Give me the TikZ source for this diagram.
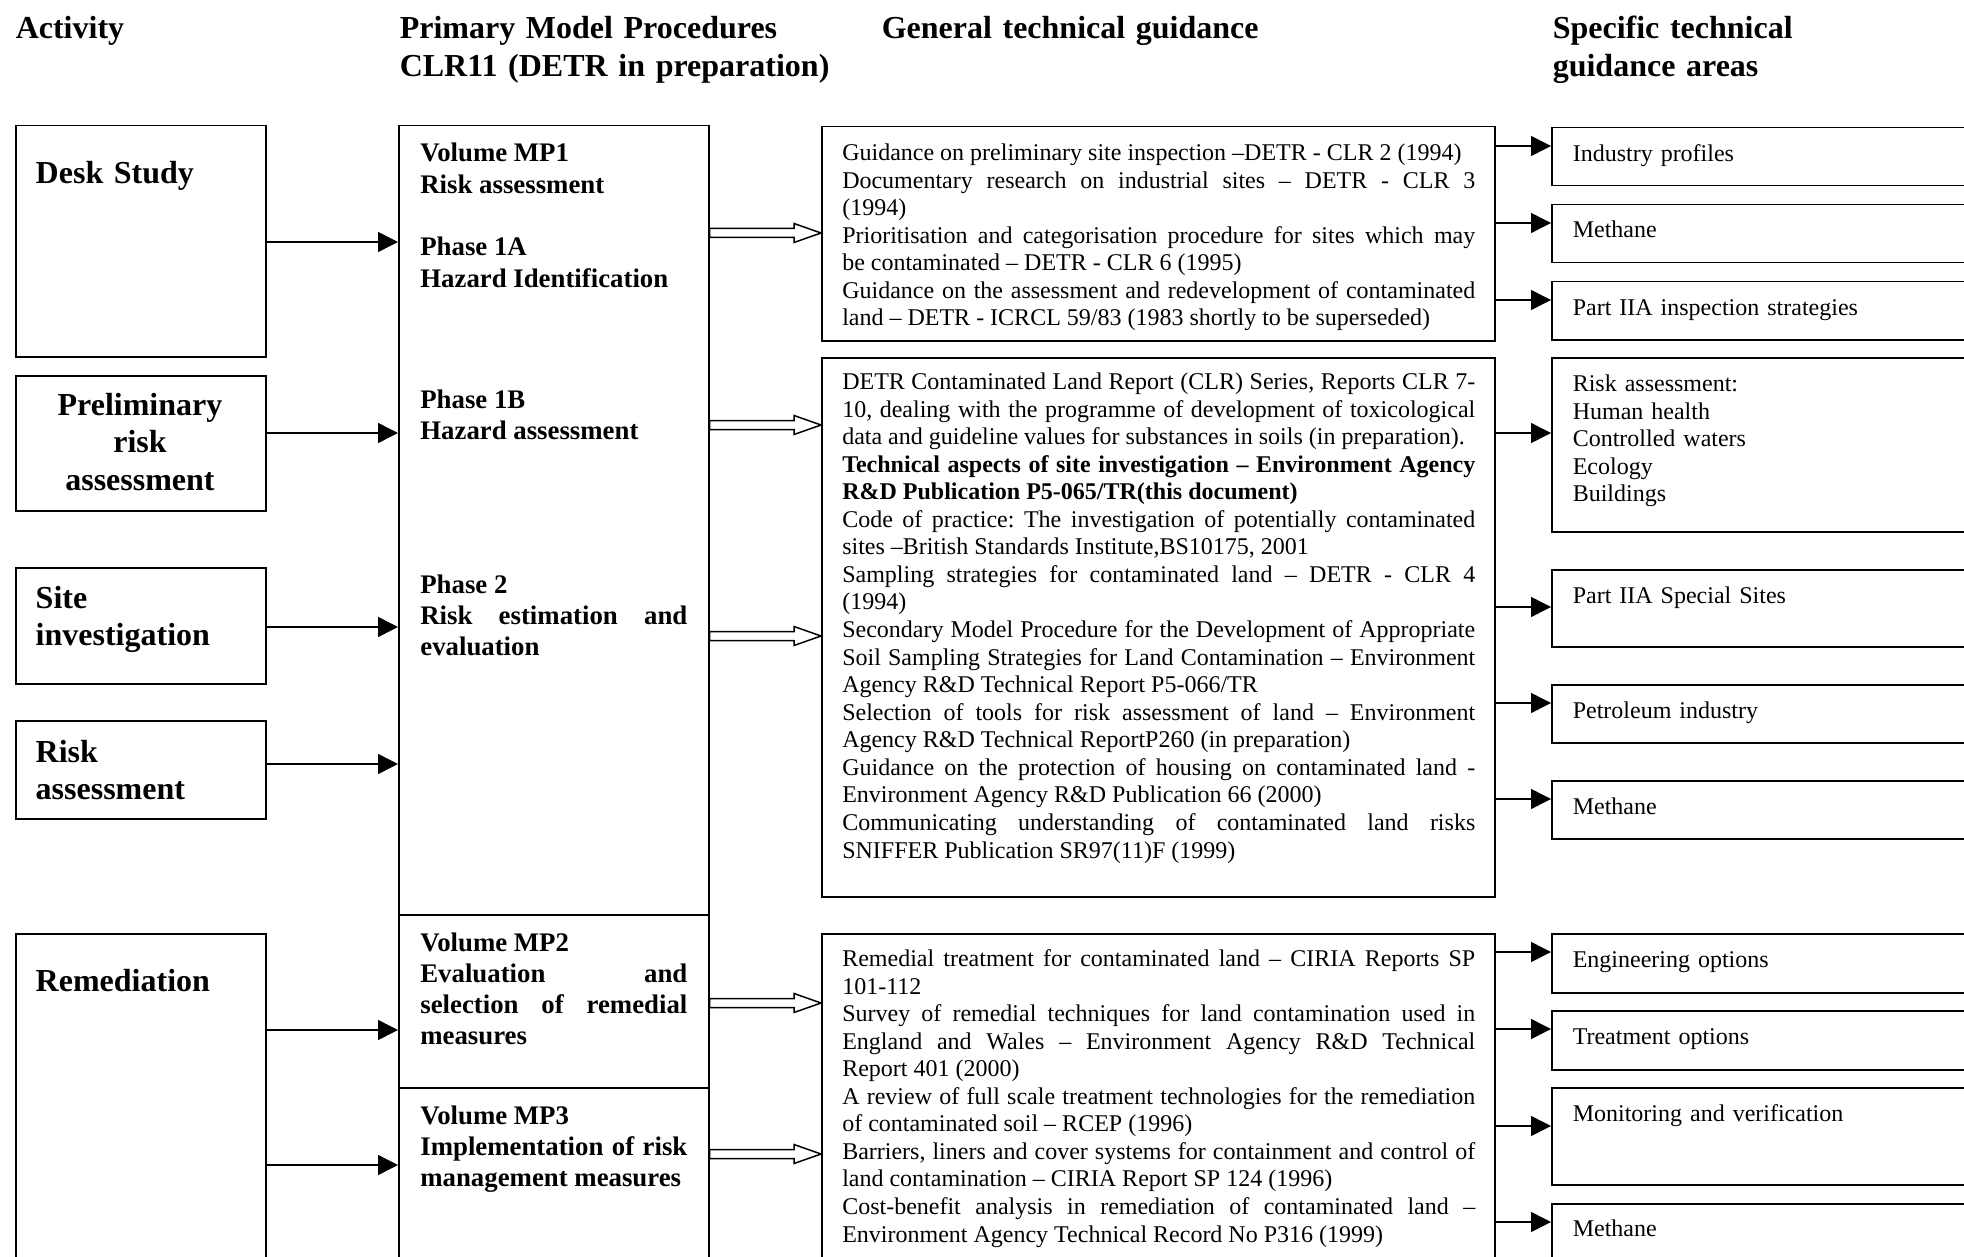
\documentclass[tikz,border=0pt]{standalone}
\usepackage{fontspec}
\setmainfont{Liberation Serif}
\usetikzlibrary{arrows.meta,calc}
\tolerance=10000
\hbadness=10000
\hyphenpenalty=10000
\exhyphenpenalty=10000
\frenchspacing

\begin{document}
\begin{tikzpicture}[x=0.5pt,y=0.5pt,line width=0.75pt]
    \tikzstyle{every node}+=[inner sep=0pt]
    \tikzstyle{box}=[draw=black,anchor=north west]
    \tikzstyle{hd}=[anchor=base west,text width=240pt,align=left,font=\fontsize{16}{18.8}\selectfont\bfseries]
    \tikzstyle{act}=[anchor=base west,text width=110pt,align=left,font=\fontsize{16}{18.8}\selectfont\bfseries]
    \tikzstyle{proc}=[anchor=base west,text width=133.5pt,align=justify,font=\fontsize{13.4}{15.6}\selectfont\bfseries]
    \tikzstyle{guide}=[anchor=base west,text width=316.5pt,align=justify,font=\fontsize{12}{13.78}\selectfont]
    \tikzstyle{area}=[anchor=base west,text width=200pt,align=left,font=\fontsize{12}{13.78}\selectfont]
    \tikzstyle{arr}=[-{Triangle[length=10pt,width=10pt]}]
    \tikzstyle{dbl}=[to path={let \p1=(\tikztostart), \p2=(\tikztotarget) in
        (\x1,\y1+2.25pt) -- (\x2-13.5pt,\y1+2.25pt) -- (\x2-13.5pt,\y1+4.75pt) -- (\x2,\y1)
        -- (\x2-13.5pt,\y1-4.75pt) -- (\x2-13.5pt,\y1-2.25pt) -- (\x1,\y1-2.25pt) -- cycle}]
    \useasboundingbox (0,0) rectangle (1964,-1257);
    \clip (0,0) rectangle (1964,-1257);

    \node[hd] (hact) at (15,-39) {Activity};
    \node[hd] (hproc) at (399,-39) {Primary Model Procedures\\CLR11 (DETR in preparation)};
    \node[hd] (hgen) at (881,-39) {General technical guidance};
    \node[hd] (hspec) at (1552,-39) {Specific technical\\guidance areas};

    \node[box,minimum width=125pt,minimum height=115.5pt] (desk) at (15,-125) {};
    \node[box,minimum width=125pt,minimum height=67.5pt] (prelim) at (15,-375) {};
    \node[box,minimum width=125pt,minimum height=58pt] (site) at (15,-567) {};
    \node[box,minimum width=125pt,minimum height=49pt] (risk) at (15,-720) {};
    \node[box,minimum width=125pt,minimum height=200pt] (remed) at (15,-933) {};
    \node[act] (tdesk) at (35,-184) {Desk Study};
    \node[act,anchor=base,align=center] (tprelim) at (140,-415) {Preliminary\\risk\\assessment};
    \node[act] (tsite) at (35,-608) {Site\\investigation};
    \node[act] (trisk) at (35,-762) {Risk\\assessment};
    \node[act] (tremed) at (35,-991) {Remediation};

    \node[box,minimum width=155pt,minimum height=394.5pt] (mp1) at (398,-125) {};
    \node[box,minimum width=155pt,minimum height=86.5pt] (mp2) at (398,-914) {};
    \node[box,minimum width=155pt,minimum height=125pt] (mp3) at (398,-1087) {};
    \node[proc] (tmp1) at (419.6,-162) {Volume MP1\\Risk assessment};
    \node[proc] (t1a) at (419.6,-256) {Phase 1A\\Hazard Identification};
    \node[proc] (t1b) at (419.6,-408.5) {Phase 1B\\Hazard assessment};
    \node[proc] (t2) at (419.6,-593) {Phase 2\\Risk estimation and\linebreak evaluation};
    \node[proc] (tmp2) at (419.6,-951) {Volume MP2\\Evaluation and\linebreak selection of remedial\linebreak measures};
    \node[proc] (tmp3) at (419.6,-1124) {Volume MP3\\Implementation of risk\linebreak management measures};

    \node[box,minimum width=336.5pt,minimum height=107pt] (g1) at (821,-126) {};
    \node[box,minimum width=336.5pt,minimum height=269.5pt] (g2) at (821,-357) {};
    \node[box,minimum width=336.5pt,minimum height=200pt] (g3) at (821,-933) {};
    \node[guide] (tg1) at (841.5,-160.5) {Guidance on preliminary site inspection –DETR - CLR 2 (1994)\\
        Documentary research on industrial sites – DETR - CLR 3\linebreak (1994)\\
        Prioritisation and categorisation procedure for sites which may\linebreak be contaminated – DETR - CLR 6 (1995)\\
        Guidance on the assessment and redevelopment of contaminated\linebreak land – DETR - ICRCL 59/83 (1983 shortly to be superseded)};
    \node[guide] (tg2) at (841.5,-389.5) {DETR Contaminated Land Report (CLR) Series, Reports CLR 7-\linebreak 10, dealing with the programme of development of toxicological\linebreak data and guideline values for substances in soils (in preparation).\\
        \textbf{Technical aspects of site investigation – Environment Agency\linebreak R\&D Publication P5-065/TR(this document)}\\
        Code of practice: The investigation of potentially contaminated\linebreak sites –British Standards Institute,BS10175, 2001\\
        Sampling strategies for contaminated land – DETR - CLR 4\linebreak (1994)\\
        Secondary Model Procedure for the Development of Appropriate\linebreak Soil Sampling Strategies for Land Contamination – Environment\linebreak Agency R\&D Technical Report P5-066/TR\\
        Selection of tools for risk assessment of land – Environment\linebreak Agency R\&D Technical ReportP260 (in preparation)\\
        Guidance on the protection of housing on contaminated land -\linebreak Environment Agency R\&D Publication 66 (2000)\\
        Communicating understanding of contaminated land risks\linebreak SNIFFER Publication SR97(11)F (1999)};
    \node[guide] (tg3) at (841.5,-966.5) {Remedial treatment for contaminated land – CIRIA Reports SP\linebreak 101-112\\
        Survey of remedial techniques for land contamination used in\linebreak England and Wales – Environment Agency R\&D Technical\linebreak Report 401 (2000)\\
        A review of full scale treatment technologies for the remediation\linebreak of contaminated soil – RCEP (1996)\\
        Barriers, liners and cover systems for containment and control of\linebreak land contamination – CIRIA Report SP 124 (1996)\\
        Cost-benefit analysis in remediation of contaminated land –\linebreak Environment Agency Technical Record No P316 (1999)};

    \node[box,minimum width=225pt,minimum height=29pt] (s1) at (1551,-127) {};
    \node[box,minimum width=225pt,minimum height=29pt] (s2) at (1551,-204) {};
    \node[box,minimum width=225pt,minimum height=29pt] (s3) at (1551,-281) {};
    \node[box,minimum width=225pt,minimum height=87pt] (s4) at (1551,-357) {};
    \node[box,minimum width=225pt,minimum height=38.5pt] (s5) at (1551,-569) {};
    \node[box,minimum width=225pt,minimum height=29pt] (s6) at (1551,-684) {};
    \node[box,minimum width=225pt,minimum height=29pt] (s7) at (1551,-780) {};
    \node[box,minimum width=225pt,minimum height=29.5pt] (s8) at (1551,-933) {};
    \node[box,minimum width=225pt,minimum height=29.5pt] (s9) at (1551,-1010) {};
    \node[box,minimum width=225pt,minimum height=48.5pt] (s10) at (1551,-1087) {};
    \node[box,minimum width=225pt,minimum height=75pt] (s11) at (1551,-1203) {};
    \node[area] (ts1) at (1572,-162) {Industry profiles};
    \node[area] (ts2) at (1572,-238) {Methane};
    \node[area] (ts3) at (1572,-315.5) {Part IIA inspection strategies};
    \node[area] (ts4) at (1572,-391.5) {Risk assessment:\\Human health\\Controlled waters\\Ecology\\Buildings};
    \node[area] (ts5) at (1572,-603.5) {Part IIA Special Sites};
    \node[area] (ts6) at (1572,-718.5) {Petroleum industry};
    \node[area] (ts7) at (1572,-814) {Methane};
    \node[area] (ts8) at (1572,-967.5) {Engineering options};
    \node[area] (ts9) at (1572,-1044.5) {Treatment options};
    \node[area] (ts10) at (1572,-1121) {Monitoring and verification};
    \node[area] (ts11) at (1572,-1236) {Methane};

    \draw[arr] (desk.east |- 0,-242) -- (mp1.west |- 0,-242);
    \draw[arr] (prelim.east |- 0,-433) -- (mp1.west |- 0,-433);
    \draw[arr] (site.east |- 0,-627) -- (mp1.west |- 0,-627);
    \draw[arr] (risk.east |- 0,-764) -- (mp1.west |- 0,-764);
    \draw[arr] (remed.east |- 0,-1030) -- (mp2.west |- 0,-1030);
    \draw[arr] (remed.east |- 0,-1165) -- (mp3.west |- 0,-1165);

    \draw[dbl] (mp1.east |- 0,-233) to (g1.west |- 0,-233);
    \draw[dbl] (mp1.east |- 0,-425) to (g2.west |- 0,-425);
    \draw[dbl] (mp1.east |- 0,-636) to (g2.west |- 0,-636);
    \draw[dbl] (mp2.east |- 0,-1003) to (g3.west |- 0,-1003);
    \draw[dbl] (mp3.east |- 0,-1154) to (g3.west |- 0,-1154);

    \draw[arr] (g1.east |- 0,-146) -- (s1.west |- 0,-146);
    \draw[arr] (g1.east |- 0,-223) -- (s2.west |- 0,-223);
    \draw[arr] (g1.east |- 0,-300) -- (s3.west |- 0,-300);
    \draw[arr] (g2.east |- 0,-433) -- (s4.west |- 0,-433);
    \draw[arr] (g2.east |- 0,-607) -- (s5.west |- 0,-607);
    \draw[arr] (g2.east |- 0,-703) -- (s6.west |- 0,-703);
    \draw[arr] (g2.east |- 0,-799) -- (s7.west |- 0,-799);
    \draw[arr] (g3.east |- 0,-952) -- (s8.west |- 0,-952);
    \draw[arr] (g3.east |- 0,-1029) -- (s9.west |- 0,-1029);
    \draw[arr] (g3.east |- 0,-1126) -- (s10.west |- 0,-1126);
    \draw[arr] (g3.east |- 0,-1222) -- (s11.west |- 0,-1222);
\end{tikzpicture}
\end{document}
